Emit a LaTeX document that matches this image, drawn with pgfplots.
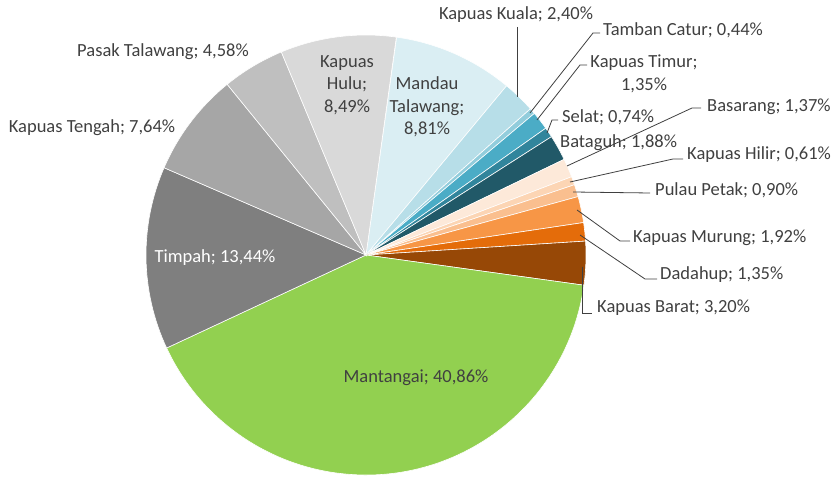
\documentclass[border=0pt]{standalone}
\usepackage{pgfplots}
\usepackage{pgfplotstable}
\pgfplotsset{compat=1.18}
\usepackage{fontspec}
\setmainfont{Carlito}
\definecolor{cMandau}{HTML}{DAEEF3}
\definecolor{cKuala}{HTML}{B7DEE8}
\definecolor{cTamban}{HTML}{92CDDC}
\definecolor{cTimur}{HTML}{4BACC6}
\definecolor{cSelat}{HTML}{31859C}
\definecolor{cBataguh}{HTML}{215968}
\definecolor{cBasarang}{HTML}{FDE9D9}
\definecolor{cHilir}{HTML}{FCD5B4}
\definecolor{cPetak}{HTML}{FABF8F}
\definecolor{cMurung}{HTML}{F79646}
\definecolor{cDadahup}{HTML}{E46C0A}
\definecolor{cBarat}{HTML}{974806}
\definecolor{cMantangai}{HTML}{92D050}
\definecolor{cTimpah}{HTML}{7F7F7F}
\definecolor{cTengah}{HTML}{A6A6A6}
\definecolor{cPasak}{HTML}{BFBFBF}
\definecolor{cHulu}{HTML}{D9D9D9}
\definecolor{txt}{HTML}{404040}
\definecolor{lead}{HTML}{404040}
\tikzset{lbl/.style={font=\fontsize{18.5pt}{22.5pt}\selectfont, text=txt, inner sep=0pt}}
\begin{document}
\begin{tikzpicture}
\pgfplotstableread[col sep=comma]{
name,value,color
Mandau Talawang,8.81,cMandau
Kapuas Kuala,2.40,cKuala
Tamban Catur,0.44,cTamban
Kapuas Timur,1.35,cTimur
Selat,0.74,cSelat
Bataguh,1.88,cBataguh
Basarang,1.37,cBasarang
Kapuas Hilir,0.61,cHilir
Pulau Petak,0.90,cPetak
Kapuas Murung,1.92,cMurung
Dadahup,1.35,cDadahup
Kapuas Barat,3.20,cBarat
Mantangai,40.86,cMantangai
Timpah,13.44,cTimpah
Kapuas Tengah,7.64,cTengah
Pasak Talawang,4.58,cPasak
Kapuas Hulu,8.49,cHulu
}\piedata
\gdef\curang{82}
\foreach \i in {0,...,16}{%
  \pgfplotstablegetelem{\i}{value}\of\piedata
  \let\v\pgfplotsretval
  \pgfplotstablegetelem{\i}{color}\of\piedata
  \let\c\pgfplotsretval
  \pgfmathsetmacro\endang{\curang-3.6*\v}%
  \expandafter\xdef\csname sa\i\endcsname{\curang}%
  \expandafter\xdef\csname ea\i\endcsname{\endang}%
  \expandafter\xdef\csname col\i\endcsname{\c}%
  \xdef\curang{\endang}%
}
\begin{axis}[x=1pt,y=1pt,xmin=0,xmax=838,ymin=0,ymax=478,hide axis,clip=false]
\path (axis cs:0,0) rectangle (axis cs:838,478);
\pgfplotsinvokeforeach{0,...,16}{%
  \filldraw[fill=\csname col#1\endcsname, draw=white, line width=0.6pt]
    (axis cs:366,223) -- ++(\csname sa#1\endcsname:220pt)
    arc[start angle=\csname sa#1\endcsname, end angle=\csname ea#1\endcsname, radius=220pt] -- cycle;
}
% leader lines
\draw[lead, line width=0.8pt] (axis cs:517,451) -- (axis cs:517,381);
\draw[lead, line width=0.8pt] (axis cs:600,445) -- (axis cs:593,445) -- (axis cs:530,365);
\draw[lead, line width=0.8pt] (axis cs:587,413) -- (axis cs:580,413) -- (axis cs:537,358);
\draw[lead, line width=0.8pt] (axis cs:558,358) -- (axis cs:552,358) -- (axis cs:547,345);
\draw[lead, line width=0.8pt] (axis cs:701,370) -- (axis cs:692,370) -- (axis cs:567,312);
\draw[lead, line width=0.8pt] (axis cs:683,319) -- (axis cs:673,319) -- (axis cs:570,296);
\draw[lead, line width=0.8pt] (axis cs:650,285) -- (axis cs:573,286);
\draw[lead, line width=0.8pt] (axis cs:630,237) -- (axis cs:620,237) -- (axis cs:577,268);
\draw[lead, line width=0.8pt] (axis cs:657,199) -- (axis cs:645,199) -- (axis cs:580,243);
\draw[lead, line width=0.8pt] (axis cs:582,211) -- (axis cs:582,165) -- (axis cs:592,165);
% labels
\node[lbl] at (axis cs:516,463) {Kapuas Kuala; 2,40\%};
\node[lbl,anchor=west] at (axis cs:603,448) {Tamban Catur; 0,44\%};
\node[lbl,align=center] at (axis cs:644,404) {Kapuas Timur;\\1,35\%};
\node[lbl,anchor=west] at (axis cs:562,361) {Selat; 0,74\%};
\node[lbl,anchor=west] at (axis cs:560,335) {Bataguh; 1,88\%};
\node[lbl,anchor=west] at (axis cs:707,371) {Basarang; 1,37\%};
\node[lbl,anchor=west] at (axis cs:687,323) {Kapuas Hilir; 0,61\%};
\node[lbl,anchor=west] at (axis cs:655,288) {Pulau Petak; 0,90\%};
\node[lbl,anchor=west] at (axis cs:633,240) {Kapuas Murung; 1,92\%};
\node[lbl,anchor=west] at (axis cs:660,203) {Dadahup; 1,35\%};
\node[lbl,anchor=west] at (axis cs:597,170) {Kapuas Barat; 3,20\%};
\node[lbl] at (axis cs:416,100) {Mantangai; 40,86\%};
\node[lbl,text=white] at (axis cs:215,220) {Timpah; 13,44\%};
\node[lbl] at (axis cs:92,350) {Kapuas Tengah; 7,64\%};
\node[lbl] at (axis cs:163,426) {Pasak Talawang; 4,58\%};
\node[lbl,align=center] at (axis cs:347,393) {Kapuas\\Hulu;\\8,49\%};
\node[lbl,align=center] at (axis cs:427,371) {Mandau\\Talawang;\\8,81\%};
\end{axis}
\end{tikzpicture}
\end{document}
